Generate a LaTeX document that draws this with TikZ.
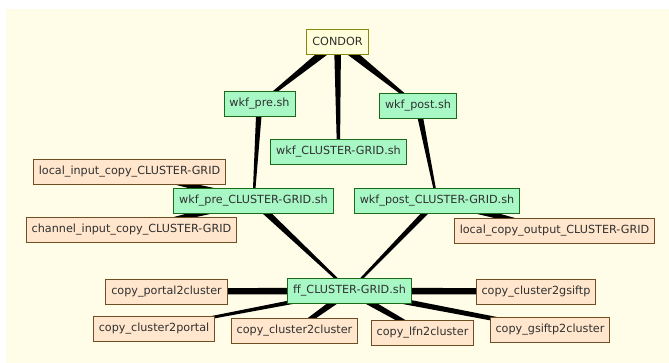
\documentclass[tikz,border=0pt]{standalone}
\usepackage{fontspec}
\setmainfont{DejaVu Sans}
\usepackage{tikz}
\usetikzlibrary{calc,backgrounds}

\definecolor{cream}{HTML}{FFFCE8}
\definecolor{jobfill}{HTML}{A8F8C6}
\definecolor{jobline}{HTML}{1A6A1A}
\definecolor{xferfill}{HTML}{FFE6CC}
\definecolor{xferline}{HTML}{6E4E22}
\definecolor{condfill}{HTML}{FFFFDC}
\definecolor{condline}{HTML}{8A8A10}
\definecolor{txt}{HTML}{303030}

\tikzset{
  box/.style={draw,line width=0.9pt,rectangle,minimum height=25pt,inner xsep=5.5pt,
    text=txt,font=\fontsize{11.2}{13}\selectfont},
  job/.style={box,fill=jobfill,draw=jobline},
  xfer/.style={box,fill=xferfill,draw=xferline},
  cond/.style={box,fill=condfill,draw=condline},
  edge/.style={fill=black}
}
% tapered connector: half width #1 at node #3, half width #2 at node #4
\newcommand\taper[4]{\fill[edge] ($(#3)!#1!90:(#4)$) -- ($(#4)!#2!-90:(#3)$)
  -- ($(#4)!#2!90:(#3)$) -- ($(#3)!#1!-90:(#4)$) -- cycle;}

\begin{document}
\begin{tikzpicture}[x=1pt,y=-1pt]
              \useasboundingbox (0,0) rectangle (669,363);
              \node[cond](condor)at(337.5,41.5){CONDOR};
              \node[job](wpre)at(259.5,104){wkf\_pre.sh};
              \node[job](wpost)at(418,106){wkf\_post.sh};
              \node[job](wcg)at(338.5,151.5){wkf\_CLUSTER-GRID.sh};
              \node[xfer](linput)at(129.5,171.5){local\_input\_copy\_CLUSTER-GRID};
              \node[job](wprecg)at(253.5,200.5){wkf\_pre\_CLUSTER-GRID.sh};
              \node[xfer](cinput)at(131.5,229.5){channel\_input\_copy\_CLUSTER-GRID};
              \node[job](wpostcg)at(437,200.5){wkf\_post\_CLUSTER-GRID.sh};
              \node[xfer](loutput)at(554.5,230.5){local\_copy\_output\_CLUSTER-GRID};
              \node[job](ff)at(349.5,291){ff\_CLUSTER-GRID.sh};
              \node[xfer](p2c)at(166.5,291.5){copy\_portal2cluster};
              \node[xfer](c2p)at(154,328.5){copy\_cluster2portal};
              \node[xfer](c2c)at(294.5,330.5){copy\_cluster2cluster};
              \node[xfer](lfn)at(422.5,332.5){copy\_lfn2cluster};
              \node[xfer](g2c)at(550,329.5){copy\_gsiftp2cluster};
              \node[xfer](c2g)at(536,291.5){copy\_cluster2gsiftp};
              \begin{pgfonlayer}{background}
              \fill[cream] (6,9) rectangle (669,363);
              \taper{4.5pt}{1pt}{condor}{wpre}
              \taper{3.5pt}{1.5pt}{condor}{wcg}
              \taper{4.5pt}{1pt}{condor}{wpost}
              \taper{3pt}{1pt}{wpre}{wprecg}
              \taper{3pt}{1pt}{wpost}{wpostcg}
              \taper{3.5pt}{1pt}{wprecg}{ff}
              \taper{3pt}{1pt}{wpostcg}{ff}
              \taper{4pt}{1.5pt}{wprecg}{linput}
              \taper{4pt}{1.5pt}{wprecg}{cinput}
              \taper{4pt}{1.5pt}{wpostcg}{loutput}
              \taper{3.5pt}{3pt}{ff}{p2c}
              \taper{2.5pt}{1pt}{ff}{c2p}
              \taper{3.5pt}{2pt}{ff}{c2c}
              \taper{3.5pt}{2pt}{ff}{lfn}
              \taper{3pt}{2pt}{ff}{g2c}
              \taper{3.5pt}{3pt}{ff}{c2g}
              \end{pgfonlayer}
            \end{tikzpicture}
\end{document}
